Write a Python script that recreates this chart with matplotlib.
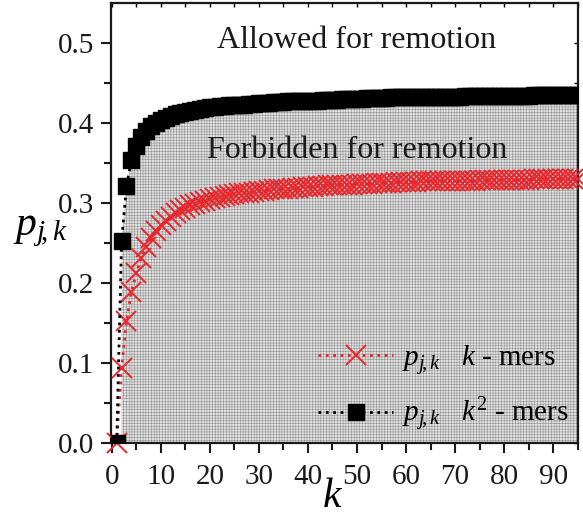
import matplotlib
matplotlib.use("Agg")
import matplotlib.pyplot as plt
import numpy as np

# k values (one marker per integer k)
k_vals = list(range(1, 96))

# p_{j,k} for k^2-mers (black squares)
p_k2mers = [
    0.000, 0.252, 0.321, 0.354, 0.371, 0.382, 0.390, 0.396, 0.400, 0.404,
    0.406, 0.409, 0.411, 0.412, 0.414, 0.415, 0.416, 0.418, 0.419, 0.420,
    0.420, 0.421, 0.421, 0.422, 0.422, 0.423, 0.423, 0.424, 0.424, 0.425,
    0.425, 0.425, 0.426, 0.426, 0.426, 0.427, 0.427, 0.427, 0.428, 0.428,
    0.428, 0.428, 0.429, 0.429, 0.429, 0.429, 0.430, 0.430, 0.430, 0.430,
    0.430, 0.431, 0.431, 0.431, 0.431, 0.431, 0.432, 0.432, 0.432, 0.432,
    0.432, 0.432, 0.432, 0.433, 0.433, 0.433, 0.433, 0.433, 0.433, 0.433,
    0.433, 0.434, 0.434, 0.434, 0.434, 0.434, 0.434, 0.434, 0.434, 0.434,
    0.434, 0.434, 0.434, 0.434, 0.434, 0.435, 0.435, 0.435, 0.435, 0.435,
    0.435, 0.435, 0.435, 0.435, 0.435,
]

# p_{j,k} for k-mers (red crosses)
p_kmers = [
    0.000, 0.094, 0.152, 0.189, 0.212, 0.231, 0.245, 0.256, 0.265, 0.272,
    0.278, 0.283, 0.287, 0.291, 0.294, 0.297, 0.299, 0.301, 0.303, 0.305,
    0.306, 0.307, 0.309, 0.310, 0.311, 0.312, 0.312, 0.313, 0.314, 0.315,
    0.315, 0.316, 0.317, 0.317, 0.318, 0.318, 0.319, 0.319, 0.320, 0.320,
    0.320, 0.321, 0.321, 0.322, 0.322, 0.322, 0.323, 0.323, 0.323, 0.324,
    0.324, 0.324, 0.324, 0.325, 0.325, 0.325, 0.325, 0.326, 0.326, 0.326,
    0.326, 0.326, 0.327, 0.327, 0.327, 0.327, 0.327, 0.328, 0.328, 0.328,
    0.328, 0.328, 0.328, 0.328, 0.329, 0.329, 0.329, 0.329, 0.329, 0.329,
    0.329, 0.329, 0.329, 0.329, 0.329, 0.330, 0.330, 0.330, 0.330, 0.330,
    0.330, 0.330, 0.330, 0.330, 0.330,
]

x_ticks = [0, 10, 20, 30, 40, 50, 60, 70, 80, 90]
y_ticks = [0.0, 0.1, 0.2, 0.3, 0.4, 0.5]

RED = "#e8262b"
INK = "#1a1a1a"

plt.rcParams["font.family"] = ["Liberation Serif", "DejaVu Serif"]
plt.rcParams["mathtext.fontset"] = "custom"
plt.rcParams["mathtext.rm"] = "Liberation Serif"
plt.rcParams["mathtext.it"] = "Liberation Serif:italic"
plt.rcParams["hatch.linewidth"] = 0.35
plt.rcParams["hatch.color"] = "#8c8c8c"

fig = plt.figure(figsize=(5.83, 5.17), dpi=100)
ax = fig.add_axes([0.190, 0.143, 0.801, 0.851])

k = np.array(k_vals)
pk2 = np.array(p_k2mers)
pk = np.array(p_kmers)

# forbidden region under the k^2-mers curve
ax.fill_between(k[1:], 0, pk2[1:], facecolor="#e0e0e0", edgecolor="#8c8c8c",
                hatch="++++++", linewidth=0, zorder=1)

ax.plot(k, pk, linestyle=":", color=RED, linewidth=2, marker="x",
        markersize=15, markeredgewidth=1.4,
        label=r"$p_{j\!,k}$   $k$ - mers", zorder=3, clip_on=False)
ax.plot(k, pk2, linestyle=":", color="black", linewidth=2, marker="s",
        markersize=12, label=r"$p_{j\!,k}$   $k^2$ - mers", zorder=4)

ax.text(0.527, 0.915, "Allowed for remotion", transform=ax.transAxes,
        ha="center", va="center", fontsize=23, color=INK)
ax.text(0.527, 0.665, "Forbidden for remotion", transform=ax.transAxes,
        ha="center", va="center", fontsize=23, color=INK, zorder=5)

ax.set_xlim(-0.2, 95)
ax.set_ylim(0, 0.55)
ax.set_xticks(x_ticks)
ax.set_yticks(y_ticks)
ax.set_yticklabels([f"{v:.1f}" for v in y_ticks])
ax.set_xticks(np.arange(5, 96, 10), minor=True)
ax.set_yticks(np.arange(0.05, 0.55, 0.1), minor=True)
ax.tick_params(which="both", direction="out", width=1.5, labelsize=21,
               colors=INK)
ax.tick_params(which="major", length=7)
ax.tick_params(which="minor", length=5)
ax.tick_params(axis="x", which="major", pad=8)
ax.tick_params(axis="y", which="major", pad=5)
for sp in ax.spines.values():
    sp.set_linewidth(1.6)
    sp.set_color(INK)

# small inward ticks on the top and right frame
top = ax.secondary_xaxis("top")
top.set_xticks(x_ticks)
top.set_xticks(np.arange(5, 96, 10), minor=True)
top.tick_params(which="both", direction="in", length=3, width=1, labeltop=False)
top.spines["top"].set_visible(False)
right = ax.secondary_yaxis("right")
right.set_yticks(y_ticks)
right.set_yticks(np.arange(0.05, 0.55, 0.1), minor=True)
right.tick_params(which="both", direction="in", length=3, width=1,
                  labelright=False)
right.spines["right"].set_visible(False)

ax.set_xlabel(r"$k$", fontsize=30, va="center")
ax.xaxis.set_label_coords(0.474, -0.122)
ax.set_ylabel(r"$p_{j\!,k}$", fontsize=30, rotation=0, va="center",
              ha="center")
ax.yaxis.set_label_coords(-0.15, 0.485)

leg = ax.legend(loc="lower right", frameon=False, fontsize=21,
                handlelength=2.6, handletextpad=0.3, labelspacing=0.65,
                borderaxespad=0.0, borderpad=0.3)
leg.set_zorder(6)

fig.savefig("out.png", dpi=100)
